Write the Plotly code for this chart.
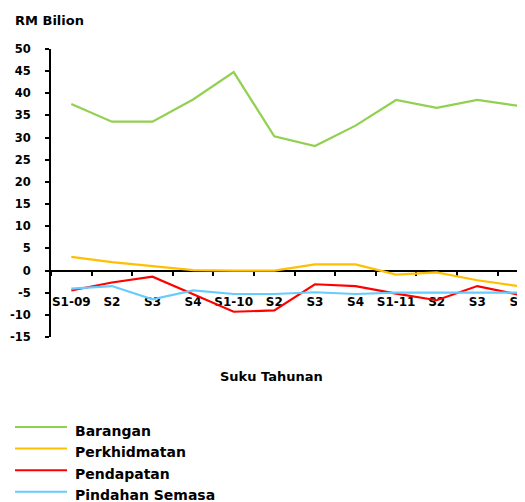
import plotly.graph_objects as go

categories = ["S1-09", "S2", "S3", "S4", "S1-10", "S2 ", "S3 ", "S4 ", "S1-11", "S2  ", "S3  ", "S4  "]
tick_labels = ["S1-09", "S2", "S3", "S4", "S1-10", "S2", "S3", "S4", "S1-11", "S2", "S3", "S4"]
y_tick_vals = [50, 45, 40, 35, 30, 25, 20, 15, 10, 5, 0, -5, -10, -15]
y_tick_text = ["50", "45", "40", "35", "30", "25", "20", "15", "10", "5", "0", "-5", "-10", "-15"]

barangan = [37.6, 33.6, 33.6, 38.6, 44.8, 30.3, 28.1, 32.7, 38.5, 36.7, 38.5, 37.2]
perkhidmatan = [3.1, 1.9, 1.0, 0.1, 0.0, 0.0, 1.4, 1.4, -0.9, -0.4, -2.2, -3.5]
pendapatan = [-4.5, -2.7, -1.4, -5.4, -9.3, -9.0, -3.1, -3.5, -5.2, -6.7, -3.5, -5.4]
pindahan = [-4.1, -3.5, -6.5, -4.5, -5.3, -5.3, -4.9, -5.3, -5.0, -5.0, -4.9, -5.0]

series_names = ["Barangan", "Perkhidmatan", "Pendapatan", "Pindahan Semasa"]
series_values = [barangan, perkhidmatan, pendapatan, pindahan]
colors = ["#92D050", "#FFC000", "#FF0000", "#66CCFF"]

FONT = "DejaVu Sans"

# figure is offset by the page's 8px body margin
W, H = 517, 494
ml, mr, mt, mb = 43, 0, 41, 165
PW, PH = W - ml - mr, H - mt - mb


def px(x):
    return (x - ml) / PW


def py(y):
    return (H - mb - y) / PH


fig = go.Figure()
for name, vals, col in zip(series_names, series_values, colors):
    fig.add_trace(go.Scatter(x=categories, y=vals, mode="lines", name=name,
                             line=dict(color=col, width=2.2), showlegend=False))

shapes = []
annotations = [dict(text="Suku Tahunan", xref="paper", yref="paper",
                    x=px(263.5), y=py(368), xanchor="center", yanchor="middle",
                    showarrow=False,
                    font=dict(family=FONT, size=13, color="black", weight="bold"))]
leg_y0, leg_dy = 419, 21.6
for i, (name, col) in enumerate(zip(series_names, colors)):
    ly = leg_y0 + i * leg_dy
    shapes.append(dict(type="line", xref="paper", yref="paper",
                       x0=px(7), x1=px(59), y0=py(ly), y1=py(ly),
                       line=dict(color=col, width=2)))
    annotations.append(dict(text=name, xref="paper", yref="paper",
                            x=px(65), y=py(ly + 3.5), xanchor="left", yanchor="middle",
                            showarrow=False,
                            font=dict(family=FONT, size=14, color="black", weight="bold")))

fig.update_layout(
    width=W, height=H,
    margin=dict(l=ml, r=mr, t=mt, b=mb, autoexpand=False),
    paper_bgcolor="white", plot_bgcolor="white",
    font=dict(family=FONT, size=12, color="black", weight="bold"),
    title=dict(text="RM Bilion", x=7 / W, xanchor="left", xref="container",
               y=1 - 12.5 / H, yanchor="middle", yref="container",
               font=dict(family=FONT, size=13, color="black", weight="bold")),
    showlegend=False,
    xaxis=dict(type="category", categoryorder="array", categoryarray=categories,
               tickvals=categories, ticktext=tick_labels, tickangle=0,
               range=[-0.5, -0.5 + PW / 40.6],
               anchor="free", position=15 / 65,
               showline=True, linecolor="black", linewidth=2,
               ticks="outside", ticklen=4, tickcolor="black", tickwidth=2,
               tickson="boundaries", showgrid=False, zeroline=False,
               ticklabelstandoff=20, layer="below traces",
               tickfont=dict(family=FONT, size=12, color="black", weight="bold")),
    yaxis=dict(range=[-15, 50], tickvals=y_tick_vals, ticktext=y_tick_text,
               showline=True, linecolor="black", linewidth=2,
               ticks="outside", ticklen=4, tickcolor="black", tickwidth=2,
               showgrid=False, zeroline=False, ticklabelstandoff=12,
               tickfont=dict(family=FONT, size=11.5, color="black", weight="bold")),
    shapes=shapes,
    annotations=annotations,
)

fig.write_html("out.html")
